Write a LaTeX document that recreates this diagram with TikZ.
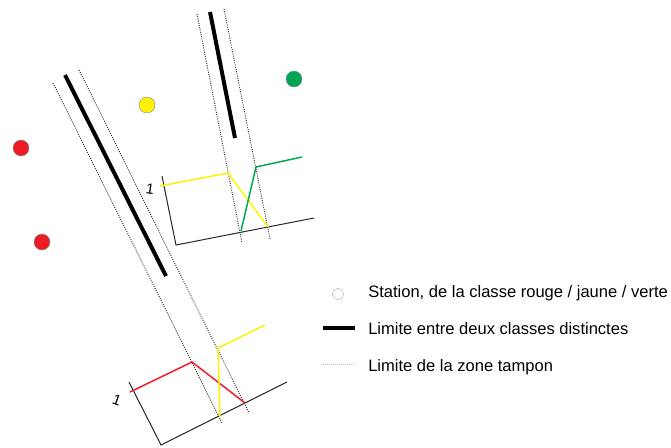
\documentclass[tikz,border=0pt]{standalone}
\usepackage{fontspec}
\setmainfont{Liberation Sans}
\definecolor{cred}{HTML}{ED1C24}
\definecolor{cyel}{HTML}{FFF200}
\definecolor{cgreen}{HTML}{00A651}
\begin{document}
\begin{tikzpicture}[x=0.75pt,y=-0.75pt,
  limit/.style={line width=3pt,black},
  buffer/.style={line width=0.7pt,densely dotted,black!85},
  axis/.style={line width=0.75pt,black!85},
  curve/.style={line width=1.1pt},
  station/.style={circle,draw=black!45,line width=0.3pt,minimum size=12pt,inner sep=0pt},
  lbl/.style={font=\fontsize{12.4pt}{14pt}\selectfont,anchor=west,inner sep=0pt},
  one/.style={font=\fontsize{11pt}{13pt}\selectfont,inner sep=0pt}]
\useasboundingbox (0,0) rectangle (671,447);
% stations
\node[station,fill=cred] (r1) at (21,148) {};
\node[station,fill=cred] (r2) at (42,242) {};
\node[station,fill=cyel] (y1) at (147,105) {};
\node[station,fill=cgreen] (g1) at (294,79) {};
% upper limit and buffer
\coordinate (ta) at (210,12); \coordinate (tb) at (235,138);
\draw[limit] (ta) -- (tb);
\coordinate (tl1) at (197,14); \coordinate (tl2) at (242,243);
\coordinate (tr1) at (224,9); \coordinate (tr2) at (270,239);
\draw[buffer] (tl1) -- (tl2);
\draw[buffer] (tr1) -- (tr2);
% lower limit and buffer
\coordinate (la) at (65,75); \coordinate (lb) at (166,276);
\draw[limit] (la) -- (lb);
\coordinate (ll1) at (53,83); \coordinate (ll2) at (222,423);
\coordinate (lr1) at (79,70); \coordinate (lr2) at (249,413);
\draw[buffer] (ll1) -- (ll2);
\draw[buffer] (lr1) -- (lr2);
% upper axes
\coordinate (ua1) at (162,176); \coordinate (uo) at (176,245); \coordinate (ua2) at (314,218);
\draw[axis] (ua1) -- (uo) -- (ua2);
\node[one,rotate=-8] (u1) at (150,189) {1};
\coordinate (uy1) at (160,186); \coordinate (uy2) at (228,173); \coordinate (uy3) at (268,227);
\draw[curve,cyel] (uy1) -- (uy2) -- (uy3);
\coordinate (ug1) at (241,231); \coordinate (ug2) at (256,167); \coordinate (ug3) at (302,157);
\draw[curve,cgreen] (ug1) -- (ug2) -- (ug3);
% lower axes
\coordinate (da1) at (129,382); \coordinate (do) at (161,445); \coordinate (da2) at (287,382);
\draw[axis] (da1) -- (do) -- (da2);
\node[one,rotate=-20] (d1) at (117,400) {1};
\coordinate (dr1) at (130,392); \coordinate (dr2) at (192,362); \coordinate (dr3) at (245,403);
\draw[curve,cred] (dr1) -- (dr2) -- (dr3);
\coordinate (dy1) at (220,417); \coordinate (dy2) at (218,348); \coordinate (dy3) at (265,325);
\draw[curve,cyel] (dy1) -- (dy2) -- (dy3);
% legend
\node[station,draw=black!35,minimum size=8.5pt] (ls) at (338,294) {};
\node[lbl] (lt1) at (368,293) {Station, de la classe rouge / jaune / verte};
\coordinate (lk1) at (323,328); \coordinate (lk2) at (355,328);
\draw[line width=2.6pt] (lk1) -- (lk2);
\node[lbl] (lt2) at (368,329) {Limite entre deux classes distinctes};
\coordinate (lz1) at (323,364); \coordinate (lz2) at (355,364);
\draw[line width=0.5pt,densely dotted,black!30] (lz1) -- (lz2);
\node[lbl] (lt3) at (368,367) {Limite de la zone tampon};
\end{tikzpicture}
\end{document}
